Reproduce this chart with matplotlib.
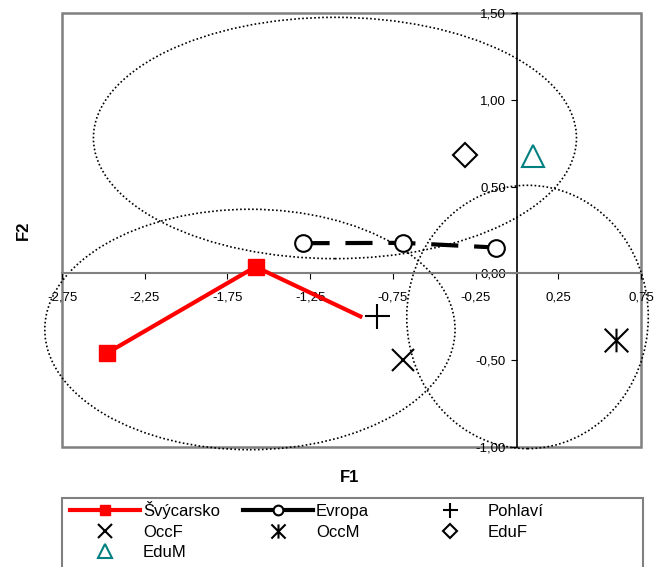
import matplotlib
matplotlib.use("Agg")
import matplotlib.pyplot as plt
from matplotlib.patches import Ellipse, Rectangle
from matplotlib.lines import Line2D
from matplotlib.path import Path
from matplotlib.ticker import FuncFormatter

plt.rcParams['font.family'] = ['Liberation Sans', 'DejaVu Sans']

# data
svy_x = [-2.48, -1.58, -0.935]
svy_y = [-0.46, 0.038, -0.253]
evr_x = [-1.296, -0.686, -0.127]
evr_y = [0.174, 0.176, 0.149]
single_names = ['Pohlaví', 'OccF', 'OccM', 'EduF', 'EduM']
single_x = [-0.848, -0.689, 0.60, -0.312, 0.10]
single_y = [-0.245, -0.498, -0.383, 0.683, 0.674]
# ellipses: centre x, centre y, width, height
ell_cx = [-1.10, -1.614, 0.064]
ell_cy = [0.78, -0.323, -0.251]
ell_w = [2.92, 2.48, 1.46]
ell_h = [1.39, 1.385, 1.517]
xticks = [-2.75, -2.25, -1.75, -1.25, -0.75, -0.25, 0.25, 0.75]
yticks = [-1.0, -0.5, 0.0, 0.5, 1.0, 1.5]

# excel style star: an X with a vertical bar through it
star = Path([(-1, -1), (1, 1), (-1, 1), (1, -1), (0, -1), (0, 1)],
            [Path.MOVETO, Path.LINETO, Path.MOVETO, Path.LINETO, Path.MOVETO, Path.LINETO])

fig = plt.figure(figsize=(6.56, 5.67), dpi=100)
ax = fig.add_axes([62/656, 1-447/567, 579/656, 434/567])
ax.set_xlim(-2.75, 0.75)
ax.set_ylim(-1.0, 1.5)

for cx, cy, w, h in zip(ell_cx, ell_cy, ell_w, ell_h):
    ax.add_patch(Ellipse((cx, cy), w, h, fill=False, ec='black', lw=1.2,
                         ls=(0, (1, 1.4)), clip_on=False, zorder=2))

ax.plot(svy_x, svy_y, color='red', lw=3, marker='s', ms=11,
        markevery=[0, 1], zorder=4, solid_capstyle='butt')
ax.plot(evr_x, evr_y, color='black', lw=3, dashes=(6.5, 3.8),
        marker='o', ms=12, mfc='white', mec='black', mew=1.5, zorder=4)

styles = [dict(marker='+', ms=18, mew=1.5, color='black'),
          dict(marker='x', ms=16, mew=1.5, color='black'),
          dict(marker=star, ms=17, mew=1.5, color='black'),
          dict(marker='D', ms=12, mew=1.5, mfc='white', mec='black', color='black'),
          dict(marker='^', ms=16, mew=1.5, mfc='white', mec='#008080', color='#008080')]
for x, y, st in zip(single_x, single_y, styles):
    ax.plot([x], [y], ls='none', zorder=5, **st)

# centred axes
for s in ['top', 'right']:
    ax.spines[s].set_visible(False)
ax.spines['left'].set_position(('data', 0))
ax.spines['bottom'].set_position(('data', 0))
ax.spines['left'].set_color('black')
ax.spines['bottom'].set_color('#808080')
ax.spines['left'].set_linewidth(1.2)
ax.spines['bottom'].set_linewidth(1.5)
ax.add_patch(Rectangle((0, 0), 1, 1, transform=ax.transAxes, fill=False,
                       ec='#808080', lw=1.8, clip_on=False, zorder=1))

ax.set_xticks(xticks)
ax.set_yticks(yticks)
fmt = FuncFormatter(lambda v, p: ('%.2f' % v).replace('.', ','))
ax.xaxis.set_major_formatter(fmt)
ax.yaxis.set_major_formatter(fmt)
ax.tick_params(axis='x', direction='out', length=4, pad=9, labelsize=9.5, color='black')
ax.tick_params(axis='y', direction='out', length=4, pad=4, labelsize=9.5, color='black')

fig.text(350/656, 1-478/567, 'F1', ha='center', va='center', fontsize=12, fontweight='bold')
fig.text(23/656, 1-230/567, 'F2', ha='center', va='center', fontsize=12,
         fontweight='bold', rotation=90)

# legend drawn by hand: grey box, three fixed-width columns, row-wise order
fig.patches.append(Rectangle((62/656, -0.05), 581/656, 0.05 + 1-498/567,
                             transform=fig.transFigure, fill=False,
                             ec='#808080', lw=1.5))
leg_styles = [dict(color='red', lw=3, marker='s', ms=7),
              dict(color='black', lw=3, marker='o', ms=7, mfc='white', mew=1.5)]
for st in styles:
    leg_styles.append(dict(ls='none', marker=st['marker'], ms=st['ms'] * 0.6,
                           mew=1.5, color=st['color'], mfc=st.get('mfc', st['color']),
                           mec=st.get('mec', st['color'])))
leg_labels = ['Švýcarsko', 'Evropa'] + single_names
col_x = [70, 243, 415]
row_y = [510, 531, 551]
for i, (lab, st) in enumerate(zip(leg_labels, leg_styles)):
    x0 = col_x[i % 3]
    y0 = 1 - row_y[i // 3] / 567
    fig.lines.append(Line2D([x0/656, (x0+70)/656], [y0, y0], markevery=[],
                            transform=fig.transFigure, **st))
    fig.lines.append(Line2D([(x0+35)/656], [y0], transform=fig.transFigure,
                            **dict(st, ls='none')))
    fig.text((x0+73)/656, y0 - 6/567, lab, ha='left', va='baseline', fontsize=12)

fig.savefig('out.png', dpi=100)
